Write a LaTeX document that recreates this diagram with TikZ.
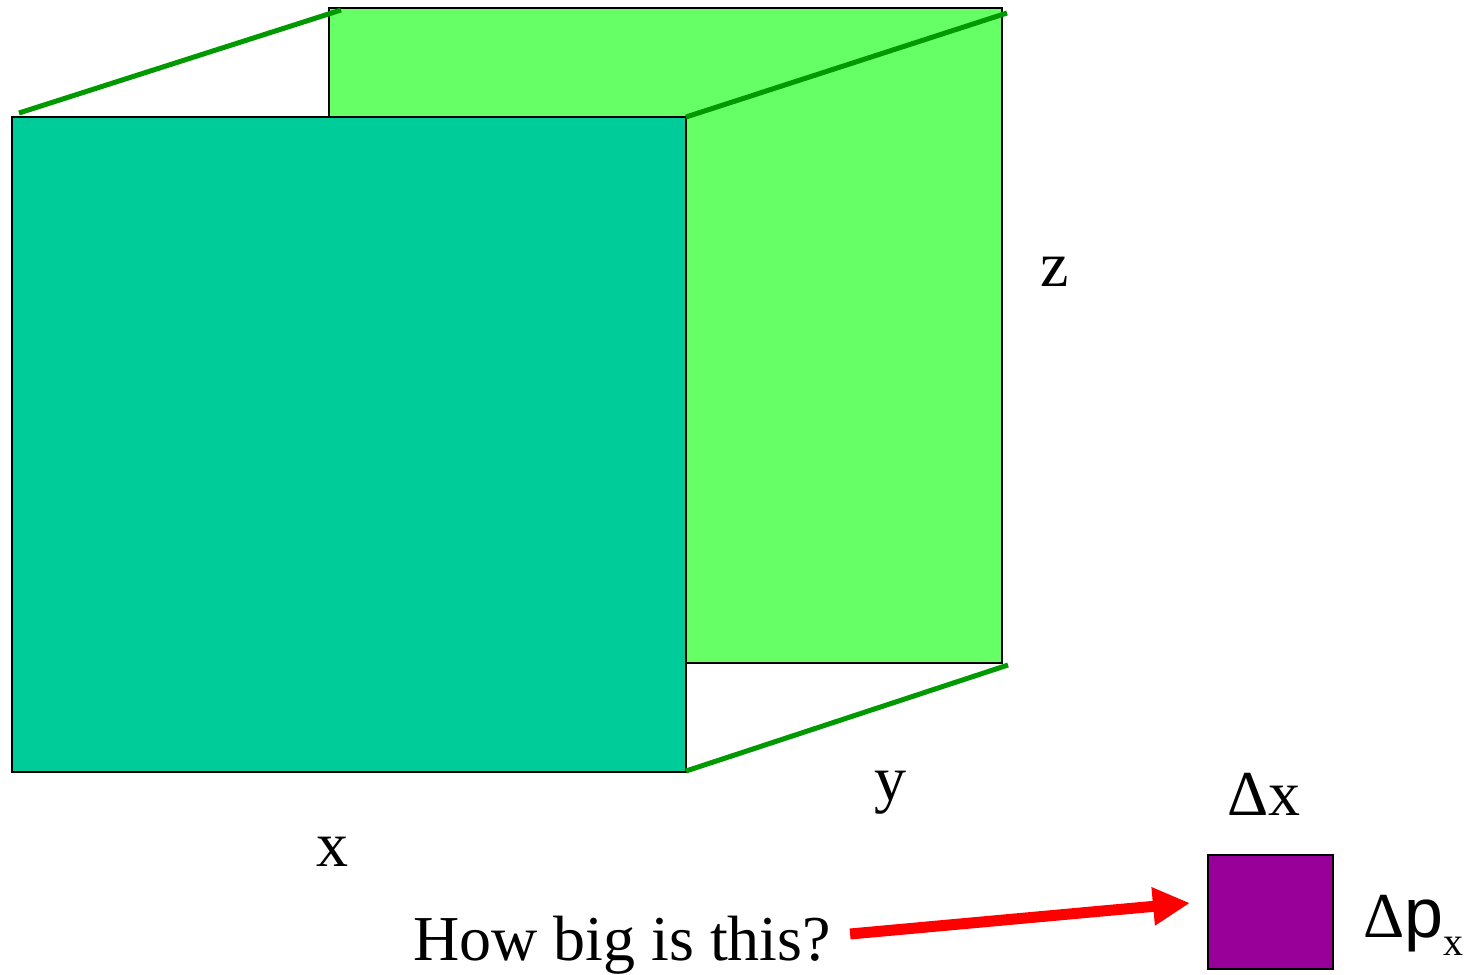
\documentclass[tikz,border=0pt]{standalone}
\usepackage{fontspec}
\setmainfont{Liberation Serif}
\newfontfamily\sansp{Liberation Sans}
\usetikzlibrary{arrows.meta}
\definecolor{backgreen}{HTML}{66FF66}
\definecolor{frontgreen}{HTML}{00CC99}
\definecolor{edgegreen}{HTML}{009900}
\definecolor{boxpurple}{HTML}{990099}
\definecolor{arrowred}{HTML}{FF0000}
\begin{document}
\begin{tikzpicture}[x=1pt,y=-1pt,
  face/.style={draw=black,line width=1.5pt,inner sep=0pt,outer sep=0pt},
  edge/.style={draw=edgegreen,line width=5pt},
  lbl/.style={inner sep=0pt,anchor=base,font=\fontsize{64}{70}\selectfont},
  bigarrow/.style={draw=arrowred,line width=11pt,-{Triangle[length=37pt,width=36pt]}}]
\useasboundingbox[fill=white] (0,0) rectangle (1474,974);
\node[face,fill=backgreen,minimum width=673pt,minimum height=655pt] (back) at (665.5,335.5) {};
\node[face,fill=frontgreen,minimum width=674pt,minimum height=655pt] (front) at (349,444.5) {};
\draw[edge] ([shift={(7,-4)}]front.north west) -- ([shift={(12,2)}]back.north west);
\draw[edge] (front.north east) -- ([shift={(5,5)}]back.north east);
\draw[edge] ([shift={(0,-1)}]front.south east) -- ([shift={(6,2)}]back.south east);
\node[lbl] (zl) at (1055,286) {z};
\node[lbl] (yl) at (890,800) {y};
\node[lbl] (xl) at (332,866) {x};
\node[face,fill=boxpurple,minimum width=125pt,minimum height=114pt] (sq) at (1270.5,912) {};
\node[lbl] (dx) at (1264,815) {Δx};
\node[lbl,anchor=base west] (dp) at (1363,937) {Δ{\sansp\fontsize{70}{70}\selectfont p}\raisebox{-18pt}{\fontsize{40}{40}\selectfont x}};
\node[lbl] (how) at (622,960) {How big is this?};
\draw[bigarrow] ([shift={(19,-26)}]how.base east) -- ([shift={(-18,-9)}]sq.west);
\end{tikzpicture}
\end{document}
